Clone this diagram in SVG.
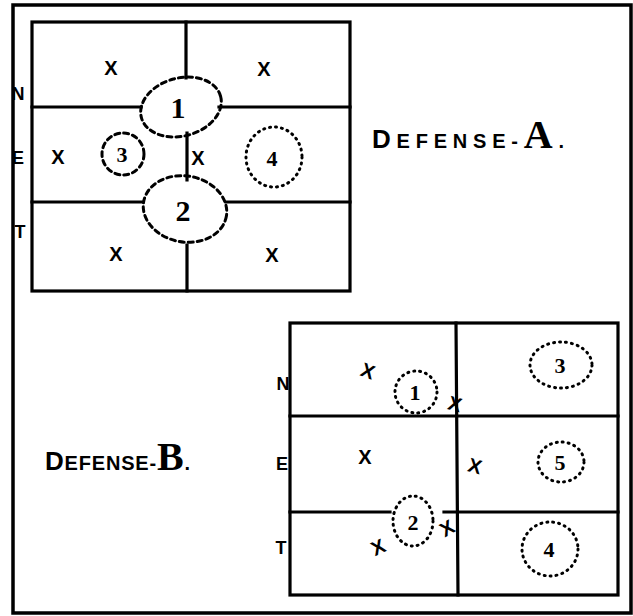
<svg xmlns="http://www.w3.org/2000/svg" width="633" height="616" viewBox="0 0 633 616">
<style>
.ln{stroke:#000;stroke-width:3.2;fill:none;stroke-linecap:square}
.frame{stroke:#000;stroke-width:3.5;fill:none}
.dash{stroke:#000;stroke-width:3;fill:none;stroke-dasharray:5 4;stroke-linecap:round}
.dot{stroke:#000;stroke-width:3;fill:none;stroke-dasharray:1 5;stroke-linecap:round}
.x{font-family:"Liberation Sans",Arial,sans-serif;font-weight:bold;font-size:20px;text-anchor:middle}
.num{font-family:"Liberation Serif","Times New Roman",serif;font-weight:bold;font-size:22px;text-anchor:middle}
.big{font-size:30px}
.side{font-family:"Liberation Sans",Arial,sans-serif;font-weight:bold;font-size:18px;text-anchor:middle}
.title{font-family:"Liberation Sans",Arial,sans-serif;font-weight:bold;font-size:20px}
</style>
<rect width="633" height="616" fill="#fff"/>
<path class="frame" d="M13,613 L13,5 L631,5 L631,613 Z"/>

<g id="defense-a">
  <g id="a-grid">
    <rect class="ln" x="32" y="22" width="318" height="269"/>
    <path class="ln" d="M186,22 V78 M187,133 V180 M187,245 V291 M32,107 H141 M219,107 H350 M32,202 H143 M226,202 H350"/>
  </g>
  <g id="a-side">
    <text class="side" x="18" y="100">N</text>
    <text class="side" x="18" y="164">E</text>
    <text class="side" x="20" y="238">T</text>
  </g>
  <g id="a-players">
    <text class="x" x="111" y="75">X</text>
    <text class="x" x="264" y="76">X</text>
    <text class="x" x="58" y="164">X</text>
    <text class="x" x="198" y="165">X</text>
    <text class="x" x="116" y="261">X</text>
    <text class="x" x="272" y="262">X</text>
  </g>
  <g id="a-zone1">
    <ellipse class="dash" cx="181" cy="107" rx="41" ry="29" transform="rotate(-15 181 107)"/>
    <text class="num big" x="178" y="118">1</text>
  </g>
  <g id="a-zone2">
    <ellipse class="dash" cx="185" cy="209" rx="42" ry="33" transform="rotate(10 185 209)"/>
    <text class="num big" x="183" y="221">2</text>
  </g>
  <g id="a-zone3">
    <ellipse class="dash" cx="123" cy="154" rx="21" ry="21"/>
    <text class="num" x="122" y="162">3</text>
  </g>
  <g id="a-zone4">
    <ellipse class="dot" cx="274" cy="157" rx="28" ry="30"/>
    <text class="num" x="272" y="166">4</text>
  </g>
  <text id="a-title" class="title" x="372" y="148" textLength="192" lengthAdjust="spacing"><tspan font-size="26">D</tspan>EFENSE-<tspan font-size="40" font-family="Liberation Serif">A</tspan>.</text>
</g>

<g id="defense-b">
  <g id="b-grid">
    <rect class="ln" x="290" y="323" width="328" height="272"/>
    <path class="ln" d="M456,323 L458,595 M290,416 H618 M290,512 H390 M444,512 H618"/>
  </g>
  <g id="b-side">
    <text class="side" x="283" y="390">N</text>
    <text class="side" x="282" y="470">E</text>
    <text class="side" x="281" y="554">T</text>
  </g>
  <g id="b-players">
    <text class="x" x="368" y="378" transform="rotate(20 368 371)">X</text>
    <text class="x" x="455" y="411" transform="rotate(15 455 404)">X</text>
    <text class="x" x="365" y="464">X</text>
    <text class="x" x="475" y="473" transform="rotate(15 475 466)">X</text>
    <text class="x" x="447" y="535" transform="rotate(-30 447 528)">X</text>
    <text class="x" x="378" y="554" transform="rotate(-25 378 547)">X</text>
  </g>
  <g id="b-zone1">
    <ellipse class="dot" cx="416" cy="392" rx="21" ry="21"/>
    <text class="num" x="415" y="400">1</text>
  </g>
  <g id="b-zone2">
    <ellipse class="dot" cx="413" cy="521" rx="20" ry="25"/>
    <text class="num" x="413" y="530">2</text>
  </g>
  <g id="b-zone3">
    <ellipse class="dot" cx="561" cy="365" rx="31" ry="23"/>
    <text class="num" x="560" y="373">3</text>
  </g>
  <g id="b-zone5">
    <ellipse class="dot" cx="561" cy="462" rx="23" ry="20"/>
    <text class="num" x="560" y="470">5</text>
  </g>
  <g id="b-zone4">
    <ellipse class="dot" cx="550" cy="549" rx="28" ry="27"/>
    <text class="num" x="549" y="557">4</text>
  </g>
  <text id="b-title" class="title" x="45" y="470" textLength="145" lengthAdjust="spacing"><tspan font-size="26">D</tspan>EFENSE-<tspan font-size="40" font-family="Liberation Serif">B</tspan>.</text>
</g>
</svg>
